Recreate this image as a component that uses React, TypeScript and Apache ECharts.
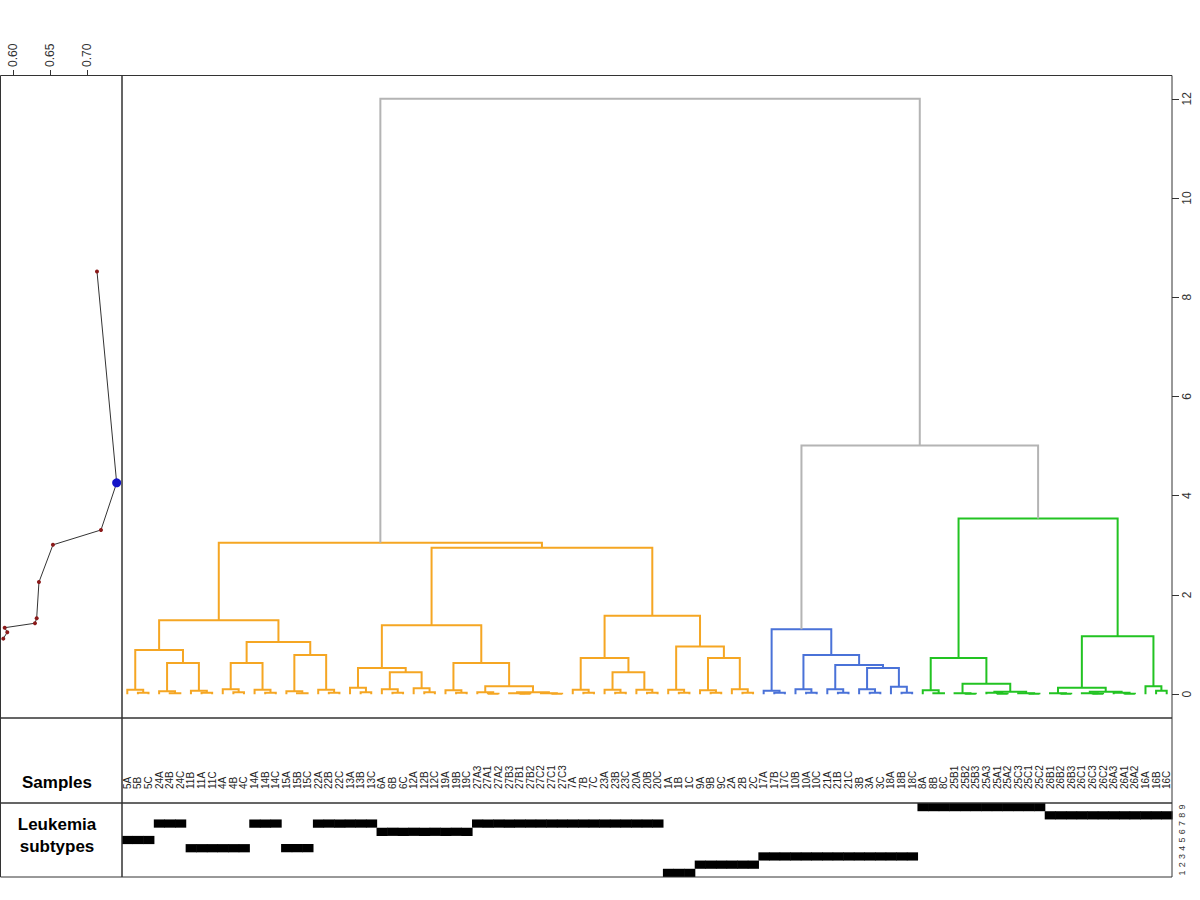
import React, { useEffect, useRef } from "react";
import * as echarts from "echarts";

// ---------- DATA ----------
const leafLabels = [
  "5A","5B","5C","24A","24B","24C","11B","11A","11C","4A","4B","4C","14A","14B","14C",
  "15A","15B","15C","22A","22B","22C","13A","13B","13C","6A","6B","6C","12A","12B","12C",
  "19A","19B","19C","27A3","27A1","27A2","27B3","27B1","27B2","27C2","27C1","27C3",
  "7A","7B","7C","23A","23B","23C","20A","20B","20C","1A","1B","1C","9A","9B","9C",
  "2A","2B","2C","17A","17B","17C","10B","10A","10C","21A","21B","21C","3B","3A","3C",
  "18A","18B","18C","8A","8B","8C","25B1","25B2","25B3","25A3","25A1","25A2","25C3","25C1","25C2",
  "26B1","26B2","26B3","26C1","26C3","26C2","26A3","26A1","26A2","16A","16B","16C",
];

type Node = string | [Node, Node, number];
// triplet: first leaf joined to the (second, third) pair
const t = (a: string, b: string, c: string, hTop: number, hPair: number): Node => [a, [b, c, hPair], hTop];

// orange cluster
const g5 = t("5A", "5B", "5C", 0.09, 0.03);
const g24 = t("24A", "24B", "24C", 0.06, 0.02);
const g11 = t("11B", "11A", "11C", 0.07, 0.03);
const g4 = t("4A", "4B", "4C", 0.1, 0.04);
const g14 = t("14A", "14B", "14C", 0.09, 0.03);
const g15 = t("15A", "15B", "15C", 0.06, 0.02);
const g22 = t("22A", "22B", "22C", 0.09, 0.03);
const g13 = t("13A", "13B", "13C", 0.13, 0.04);
const g6 = t("6A", "6B", "6C", 0.1, 0.03);
const g12 = t("12A", "12B", "12C", 0.12, 0.04);
const g19 = t("19A", "19B", "19C", 0.08, 0.03);
const g27: Node = [
  t("27A3", "27A1", "27A2", 0.04, 0.01),
  [t("27B3", "27B1", "27B2", 0.02, 0.01), t("27C2", "27C1", "27C3", 0.02, 0.01), 0.04],
  0.16,
];
const g7 = t("7A", "7B", "7C", 0.09, 0.03);
const g23 = t("23A", "23B", "23C", 0.09, 0.03);
const g20 = t("20A", "20B", "20C", 0.09, 0.03);
const g1 = t("1A", "1B", "1C", 0.09, 0.03);
const g9 = t("9A", "9B", "9C", 0.08, 0.03);
const g2 = t("2A", "2B", "2C", 0.1, 0.03);
// blue cluster
const g17 = t("17A", "17B", "17C", 0.07, 0.03);
const g10 = t("10B", "10A", "10C", 0.1, 0.03);
const g21 = t("21A", "21B", "21C", 0.1, 0.03);
const g3 = t("3B", "3A", "3C", 0.1, 0.03);
const g18 = t("18A", "18B", "18C", 0.15, 0.03);
// green cluster
const g8 = t("8A", "8B", "8C", 0.08, 0.02);
const g25: Node = [
  t("25B1", "25B2", "25B3", 0.02, 0.01),
  [t("25A3", "25A1", "25A2", 0.03, 0.01), t("25C3", "25C1", "25C2", 0.02, 0.01), 0.05],
  0.21,
];
const g26: Node = [
  t("26B1", "26B2", "26B3", 0.02, 0.01),
  [t("26C1", "26C3", "26C2", 0.02, 0.01), t("26A3", "26A1", "26A2", 0.03, 0.01), 0.05],
  0.13,
];
const g16 = t("16A", "16B", "16C", 0.16, 0.07);

const orangeLeft: Node = [[g5, [g24, g11, 0.63], 0.89], [[g4, g14, 0.63], [g15, g22, 0.79], 1.05], 1.49];
const orangeMid: Node = [[g13, [g6, g12, 0.44], 0.53], [g19, g27, 0.63], 1.39];
const orangeRight: Node = [[g7, [g23, g20, 0.44], 0.73], [g1, [g9, g2, 0.73], 0.96], 1.58];
const orangeCluster: Node = [orangeLeft, [orangeMid, orangeRight, 2.95], 3.05];
const blueCluster: Node = [g17, [g10, [g21, [g3, g18, 0.53], 0.59], 0.79], 1.31];
const greenCluster: Node = [[g8, g25, 0.73], [g26, g16, 1.17], 3.54];
const tree: Node = [orangeCluster, [blueCluster, greenCluster, 5.01], 12.0];

// silhouette-like index versus cut height (left panel)
const cutHeights = [8.52, 4.26, 3.31, 3.01, 2.26, 1.53, 1.43, 1.34, 1.25, 1.12];
const silhouette = [0.7131, 0.7397, 0.7185, 0.6536, 0.6347, 0.6316, 0.6293, 0.5884, 0.5919, 0.5865];
const bestIndex = 1;

// leukemia subtype of each sample number
const subtypeBySample: Record<string, number> = {
  "5": 5, "24": 7, "11": 4, "4": 4, "14": 7, "15": 4, "22": 7, "13": 7, "6": 6, "12": 6, "19": 6,
  "27": 7, "7": 7, "23": 7, "20": 7, "1": 1, "9": 2, "2": 2, "17": 3, "10": 3, "21": 3, "3": 3,
  "18": 3, "8": 9, "25": 9, "26": 8, "16": 8,
};
const subtypeRows = ["1", "2", "3", "4", "5", "6", "7", "8", "9"];

const clusterColors = ["#B4B4B4", "#F5A623", "#4A72D8", "#22C322"];

// ---------- helpers ----------
function buildSegments(root: Node, cut: number) {
  const segs: number[][] = [];
  let cluster = 0;
  const heightOf = (n: Node) => (typeof n === "string" ? 0 : n[2]);
  function walk(n: Node, ci: number): { x: number; h: number } {
    if (typeof n === "string") return { x: leafLabels.indexOf(n), h: 0 };
    const [l, r, h] = n;
    const childColor = (c: Node) => (ci !== 0 ? ci : heightOf(c) > cut ? 0 : ++cluster);
    const L = walk(l, childColor(l));
    const R = walk(r, childColor(r));
    segs.push([L.x, L.h, R.x, R.h, h, ci]);
    return { x: (L.x + R.x) / 2, h };
  }
  walk(root, heightOf(root) > cut ? 0 : ++cluster);
  return segs;
}

const FONT = "'Liberation Sans', Arial, sans-serif";
// plot geometry (pixels)
const PANEL_TOP = 75;
const H_TOP = 98.8; // pixel row of height 12
const H_SPAN = 595.4; // pixels from height 12 to height 0

export default function App() {
  const ref = useRef<HTMLDivElement>(null);
  useEffect(() => {
    if (!ref.current) return;
    const chart = echarts.init(ref.current, null, { renderer: "svg" });
    const segs = buildSegments(tree, cutHeights[bestIndex]);
    const subtypeData = leafLabels.map((lab, i) => {
      const num = lab.match(/^\d+/)![0];
      return [i, subtypeBySample[num] - 1];
    });
    const silData = silhouette.map((s, i) =>
      i === bestIndex
        ? { value: [s, cutHeights[i]], symbolSize: 9, itemStyle: { color: "#1414C8" } }
        : { value: [s, cutHeights[i]] }
    );
    const frame = (x: number, y: number, w: number, h: number) => ({
      type: "rect",
      shape: { x, y, width: w, height: h },
      style: { fill: "none", stroke: "#333", lineWidth: 1 },
      z: 100,
    });
    const option: any = {
      animation: false,
      textStyle: { fontFamily: FONT },
      grid: [
        { left: 1, top: H_TOP, width: 121, height: H_SPAN },
        { left: 122, top: H_TOP, width: 1050, height: H_SPAN },
        { left: 122, top: 789, width: 1050, height: 1 },
        { left: 122, top: 803, width: 1050, height: 74 },
        { left: 13.3, top: H_TOP, width: 74, height: H_SPAN },
      ],
      xAxis: [
        { gridIndex: 0, type: "value", min: 0.5834, max: 0.7469, show: false },
        { gridIndex: 1, type: "value", min: -0.5, max: 98.5, show: false },
        {
          gridIndex: 2, type: "category", data: leafLabels, position: "top",
          axisLine: { show: false, onZero: false }, axisTick: { show: false },
          axisLabel: { interval: 0, rotate: -90, fontSize: 10, margin: 0, color: "#222" },
        },
        { gridIndex: 3, type: "value", min: -0.5, max: 98.5, show: false },
        {
          gridIndex: 4, type: "value", position: "top", min: 0.6, max: 0.7, interval: 0.05,
          offset: H_TOP - PANEL_TOP,
          axisLine: { show: false, onZero: false }, splitLine: { show: false },
          axisTick: { show: true, length: 5, lineStyle: { color: "#333" } },
          axisLabel: {
            rotate: -90, fontSize: 12, margin: 8, color: "#333",
            formatter: (v: number) => v.toFixed(2),
          },
        },
      ],
      yAxis: [
        { gridIndex: 0, type: "value", min: 0, max: 12, show: false },
        {
          gridIndex: 1, type: "value", min: 0, max: 12, interval: 2, position: "right",
          axisLine: { show: false, onZero: false }, splitLine: { show: false },
          axisTick: { show: true, length: 7, lineStyle: { color: "#333" } },
          axisLabel: { rotate: 90, fontSize: 12, margin: 9, color: "#333" },
        },
        { gridIndex: 2, type: "value", min: 0, max: 1, show: false },
        {
          gridIndex: 3, type: "category", data: subtypeRows, position: "right",
          axisLine: { show: false, onZero: false }, axisTick: { show: false }, splitLine: { show: false },
          axisLabel: { interval: 0, rotate: 90, fontSize: 9, margin: 5, color: "#333" },
        },
        { gridIndex: 4, type: "value", min: 0, max: 12, show: false },
      ],
      series: [
        {
          type: "line", xAxisIndex: 0, yAxisIndex: 0, data: silData,
          symbol: "circle", symbolSize: 4, showSymbol: true,
          itemStyle: { color: "#8B1A1A" },
          lineStyle: { color: "#333", width: 1 },
          z: 5,
        },
        {
          type: "custom", xAxisIndex: 1, yAxisIndex: 1, data: segs,
          encode: { x: [0, 2], y: [1, 3, 4] },
          renderItem: (_p: any, api: any) => {
            const xL = api.value(0), hL = api.value(1), xR = api.value(2), hR = api.value(3);
            const h = api.value(4), ci = api.value(5);
            const pts = [api.coord([xL, hL]), api.coord([xL, h]), api.coord([xR, h]), api.coord([xR, hR])];
            return {
              type: "polyline",
              shape: { points: pts },
              style: { stroke: clusterColors[ci], lineWidth: 2, fill: "none" },
            };
          },
        },
        {
          type: "custom", xAxisIndex: 3, yAxisIndex: 3, data: subtypeData,
          encode: { x: 0, y: 1 },
          renderItem: (_p: any, api: any) => {
            const i = api.value(0), row = api.value(1);
            const p = api.coord([i - 0.5, row]);
            const s = api.size([1, 1]);
            return {
              type: "rect",
              shape: { x: p[0], y: p[1] - s[1] / 2, width: s[0] + 0.6, height: s[1] },
              style: { fill: "#000" },
            };
          },
        },
      ],
      graphic: [
        frame(0.5, 75.5, 121.5, 642.5),
        frame(122, 75.5, 1050, 642.5),
        frame(0.5, 718, 121.5, 85),
        frame(122, 718, 1050, 85),
        frame(0.5, 803, 121.5, 74),
        frame(122, 803, 1050, 74),
        {
          type: "text", x: 57, y: 782,
          style: { text: "Samples", font: `bold 17px ${FONT}`, fill: "#000", align: "center", verticalAlign: "middle" },
        },
        {
          type: "text", x: 57, y: 835,
          style: {
            text: "Leukemia\nsubtypes", font: `bold 17px ${FONT}`, lineHeight: 22, fill: "#000",
            align: "center", verticalAlign: "middle",
          },
        },
      ],
    };
    chart.setOption(option);
    return () => chart.dispose();
  }, []);
  return <div ref={ref} style={{ position: "absolute", left: 0, top: 0, width: 1200, height: 900 }} />;
}
